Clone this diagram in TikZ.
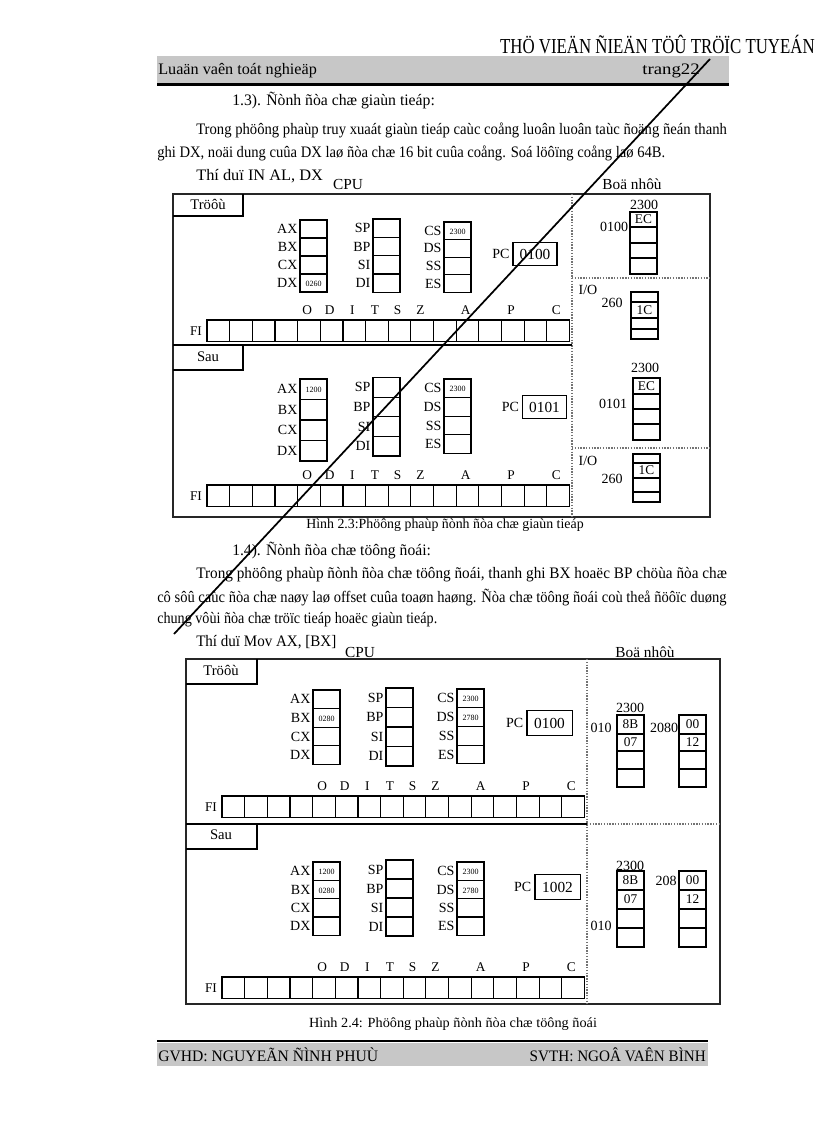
\documentclass[tikz,border=0pt]{standalone}
\usepackage{fontspec}
\usepackage{graphicx}
\setmainfont{Liberation Serif}
\usetikzlibrary{positioning}
\newcommand\setfs[1]{\fontsize{#1}{#1}\selectfont}
% squeeze or stretch one printed line to a given width
\newcommand\fitw[2]{\sbox0{#2}\pgfmathsetmacro\fitratio{#1/\the\wd0}\scalebox{\fitratio}[1]{\usebox0}}
\tikzset{
  cell/.style={draw, line width=0.9pt},
  framebox/.style={draw=black!85, line width=1.2pt},
  divline/.style={draw=black!55, densely dotted, line width=1.1pt},
  band/.style={fill=black!22},
  bodytext/.style={font=\setfs{12}, anchor=west, inner sep=0pt},
  reglab/.style={font=\setfs{10.5}, anchor=east, inner sep=1pt},
  tinyval/.style={font=\setfs{6}, inner sep=0pt},
  flaglab/.style={font=\setfs{10}, inner sep=0pt},
  memlab/.style={font=\setfs{10.5}, inner sep=0pt},
  memval/.style={font=\setfs{10}, inner sep=0pt},
  pcbox/.style={draw, line width=1pt, font=\setfs{11.5}, inner sep=0pt,
    minimum width=33pt, minimum height=17pt},
  tabtext/.style={font=\setfs{11}, inner sep=0pt}
}
% register column: name, left x, top y, cell height, label/value list
\newcommand\regcol[5]{%
  \foreach \lab/\val [count=\k from 0] in {#5} {
    \draw[cell] (#2,#3+\k*#4) rectangle (#2+27,#3+\k*#4+#4);
    \node[reglab] (#1l\k) at (#2-1,#3+\k*#4+#4/2) {\lab};
    \node[tinyval] (#1v\k) at (#2+13.5,#3+\k*#4+#4/2+1) {\val};
  }}
% flag register: name, left x, top y
\newcommand\flagrow[3]{%
  \foreach \k in {0,...,15}
    \draw[cell] (#2+\k*22.65,#3) rectangle ++(22.65,21.5);
  \foreach \f/\k in {O/4,D/5,I/6,T/7,S/8,Z/9,A/11,P/13,C/15}
    \node[flaglab] (#1\f) at (#2+\k*22.65+9.5,#3-10) {\f};
  \node[flaglab] (#1FI) at (#2-11,#3+11) {FI};}
% memory column: name, left x, y1/y2/value list
\newcommand\memcol[3]{%
  \foreach \ya/\yb/\v [count=\k] in {#3} {
    \draw[cell, fill=white] (#2,\ya) rectangle (#2+27,\yb);
    \node[memval] (#1\k) at (#2+13.5,{(\ya+\yb)/2}) {\v};
  }}

\begin{document}
\begin{tikzpicture}[x=0.75pt,y=-0.75pt]
  \useasboundingbox[fill=white] (0,0) rectangle (816,1123);

  % page head
  \node[bodytext, font=\setfs{16}, anchor=east] (site) at (815,45)
    {\fitw{236pt}{THÖ VIEÄN ÑIEÄN TÖÛ TRÖÏC TUYEÁN}};
  \fill[band] (157,56) rectangle (729,83);
  \draw[line width=2.2pt] (157,84.5) -- (729,84.5);
  \node[bodytext] (thesis) at (158,71) {\fitw{119pt}{Luaän vaên toát nghieäp}};
  \node[bodytext, anchor=east] (page) at (700,71) {\fitw{43pt}{trang22}};

  % text above Hinh 2.3
  \node[bodytext] (h13) at (232,101) {\fitw{152pt}{1.3). Ñònh ñòa chæ giaùn tieáp:}};
  \node[bodytext] (p13a) at (196,130)
    {\fitw{398pt}{Trong phöông phaùp truy xuaát giaùn tieáp caùc coång luoân luoân taùc ñoäng ñeán thanh}};
  \node[bodytext] (p13b) at (157,153)
    {\fitw{381pt}{ghi DX, noäi dung cuûa DX laø ñòa chæ 16 bit cuûa coång. Soá löôïng coång laø 64B.}};
  \node[bodytext] (ex13) at (196,176) {\fitw{95pt}{Thí duï IN AL, DX}};

  % Hinh 2.3
  \node[memlab, font=\setfs{11.5}] (cpu1) at (348,184) {CPU};
  \node[memlab, font=\setfs{11.5}] (mem1) at (632,184) {Boä nhôù};
  \draw[framebox] (173,194) rectangle (710,517);
  \draw[divline] (572,194) -- (572,517);
  \draw[divline] (572,278) -- (710,278);
  \draw[divline] (572,448) -- (710,448);
  \draw[line width=1pt] (173,345) -- (572,345);
  \draw[line width=1pt] (243,194) |- (173,216);
  \node[tabtext] (pre1) at (208,204) {Tröôù};
  \draw[line width=1pt] (243,345) |- (173,370);
  \node[tabtext] (post1) at (208,357) {Sau};

  \regcol{ta}{300}{220}{18}{AX/{},BX/{},CX/{},DX/0260}
  \regcol{tb}{373}{219}{18.3}{SP/{},BP/{},SI/{},DI/{}}
  \regcol{tc}{444}{222}{17.6}{CS/2300,DS/{},SS/{},ES/{}}
  \node[pcbox] (tpc) at (535,254) {0100};
  \node[reglab, left=1pt of tpc] (tpcl) {PC};
  \flagrow{tf}{207}{320}

  \regcol{sa}{300}{379}{20.5}{AX/1200,BX/{},CX/{},DX/{}}
  \regcol{sb}{373}{377.5}{19.6}{SP/{},BP/{},SI/{},DI/{}}
  \regcol{sc}{444}{379}{18.6}{CS/2300,DS/{},SS/{},ES/{}}
  \node[pcbox] (spc) at (544.5,407) {0101};
  \node[reglab, left=1pt of spc] (spcl) {PC};
  \flagrow{sf}{207}{485}

  \node[memlab] (m1a) at (644,205) {2300};
  \node[memlab] (m1b) at (614,227) {0100};
  \memcol{mc1}{630}{212/227/EC,227/243/{},243/258/{},258/274/{}}
  \node[memlab] (io1) at (588,290) {I/O};
  \node[memlab] (p1) at (612,303) {260};
  \memcol{mc2}{631}{292/302/{},302/318/1C,318/329/{},329/339/{}}
  \node[memlab] (m2a) at (645,368) {2300};
  \node[memlab] (m2b) at (613,404) {0101};
  \memcol{mc3}{633}{378/394/EC,394/409/{},409/424/{},424/440/{}}
  \node[memlab] (io2) at (588,461) {I/O};
  \node[memlab] (p2) at (612,479) {260};
  \memcol{mc4}{633}{454/463/{},463/478/1C,478/492/{},492/502/{}}

  \node[memlab] (cap1) at (445,525) {\fitw{208pt}{Hình 2.3:Phöông phaùp ñònh ñòa chæ giaùn tieáp}};

  % text above Hinh 2.4
  \node[bodytext] (h14) at (232,551) {\fitw{149pt}{1.4). Ñònh ñòa chæ töông ñoái:}};
  \node[bodytext] (p14a) at (196,575)
    {\fitw{398pt}{Trong phöông phaùp ñònh ñòa chæ töông ñoái, thanh ghi BX hoaëc BP chöùa ñòa chæ}};
  \node[bodytext] (p14b) at (157,598)
    {\fitw{427pt}{cô sôû caùc ñòa chæ naøy laø offset cuûa toaøn haøng. Ñòa chæ töông ñoái coù theå ñöôïc duøng}};
  \node[bodytext] (p14c) at (157,620)
    {\fitw{210pt}{chung vôùi ñòa chæ tröïc tieáp hoaëc giaùn tieáp.}};
  \node[bodytext] (ex14) at (196,642) {\fitw{105pt}{Thí duï Mov AX, [BX]}};

  % Hinh 2.4
  \node[memlab, font=\setfs{11.5}] (cpu2) at (360,652) {CPU};
  \node[memlab, font=\setfs{11.5}] (mem2) at (645,652) {Boä nhôù};
  \draw[framebox] (186,659) rectangle (720,1004);
  \draw[divline] (587,659) -- (587,1004);
  \draw[line width=1pt] (186,824) -- (587,824);
  \draw[divline] (587,824) -- (720,824);
  \draw[line width=1pt] (257,659) |- (186,684);
  \node[tabtext] (pre2) at (221,670) {Tröôù};
  \draw[line width=1pt] (257,824) |- (186,849);
  \node[tabtext] (post2) at (221,835) {Sau};

  \regcol{ua}{313}{690}{18.6}{AX/{},BX/0280,CX/{},DX/{}}
  \regcol{ub}{386}{688}{19.5}{SP/{},BP/{},SI/{},DI/{}}
  \regcol{uc}{457}{689}{18.7}{CS/2300,DS/2780,SS/{},ES/{}}
  \node[pcbox, minimum width=34pt, minimum height=19pt] (upc) at (549.5,723) {0100};
  \node[reglab, left=1pt of upc] (upcl) {PC};
  \flagrow{uf}{222}{796}

  \regcol{va}{313}{862}{18.3}{AX/1200,BX/0280,CX/{},DX/{}}
  \regcol{vb}{386}{860}{19}{SP/{},BP/{},SI/{},DI/{}}
  \regcol{vc}{457}{862}{18.3}{CS/2300,DS/2780,SS/{},ES/{}}
  \node[pcbox, minimum width=34pt, minimum height=19pt] (vpc) at (557.5,887) {1002};
  \node[reglab, left=1pt of vpc] (vpcl) {PC};
  \flagrow{vf}{222}{977}

  \node[memlab] (m3a) at (630,708) {2300};
  \node[memlab] (m3b) at (601,728) {010};
  \node[memlab] (m3c) at (664,728) {2080};
  \memcol{mc5}{617}{715/734/8B,734/751/07,751/769/{},769/787/{}}
  \memcol{mc6}{679}{715/734/00,734/751/12,751/769/{},769/787/{}}
  \node[memlab] (m4a) at (630,866) {2300};
  \node[memlab] (m4b) at (666,881) {208};
  \node[memlab] (m4c) at (601,926) {010};
  \memcol{mc7}{617}{871/890/8B,890/909/07,909/928/{},928/947/{}}
  \memcol{mc8}{679}{871/890/00,890/909/12,909/928/{},928/947/{}}

  \node[memlab] (cap2) at (453,1024) {\fitw{216pt}{Hình 2.4: Phöông phaùp ñònh ñòa chæ töông ñoái}};

  % page foot
  \draw[line width=2.2pt] (157,1041) -- (708,1041);
  \fill[band] (157,1043) rectangle (708,1066);
  \node[bodytext] (gvhd) at (158,1055) {\fitw{165pt}{GVHD: NGUYEÃN ÑÌNH PHUÙ}};
  \node[bodytext, anchor=east] (svth) at (706,1055) {\fitw{132pt}{SVTH: NGOÂ VAÊN BÌNH}};

  % stroke across the page
  \draw[line width=1.3pt] (710,59) -- (174,634);
\end{tikzpicture}
\end{document}
